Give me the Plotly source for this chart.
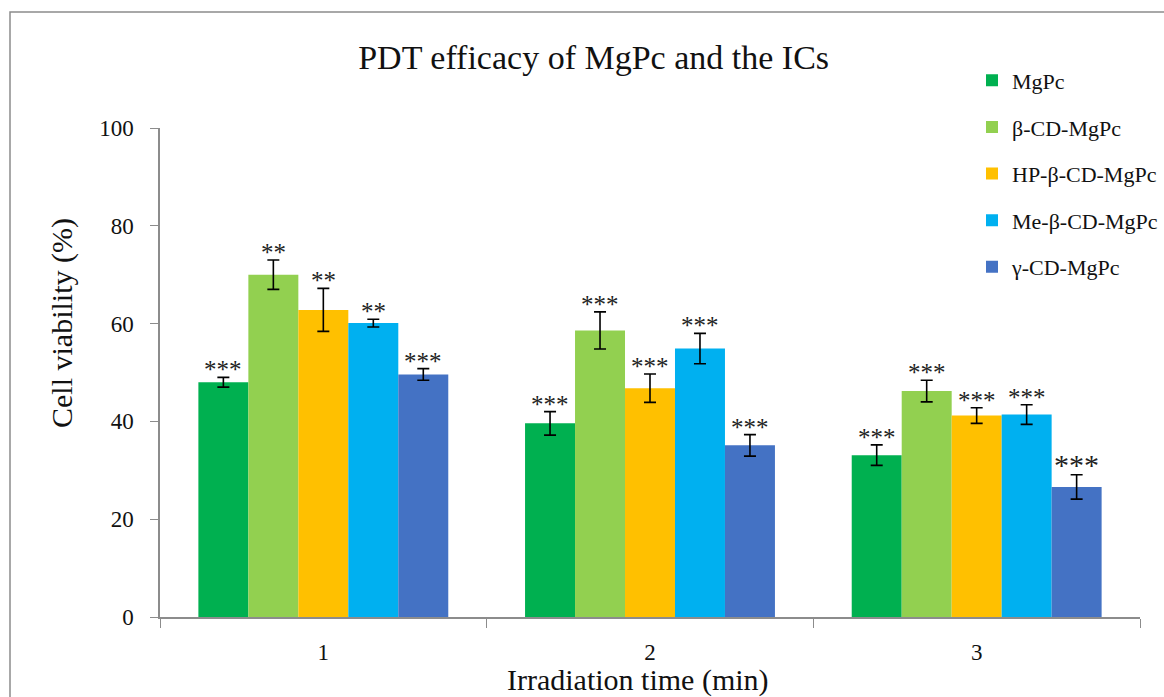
import plotly.graph_objects as go

categories = ["1", "2", "3"]
series_names = ["MgPc", "β-CD-MgPc", "HP-β-CD-MgPc", "Me-β-CD-MgPc", "γ-CD-MgPc"]
colors = ["#00B050", "#92D050", "#FFC000", "#00B0F0", "#4472C4"]

mgpc = [48.0, 39.6, 33.1]
beta_cd = [70.0, 58.6, 46.2]
hp_beta_cd = [62.8, 46.8, 41.2]
me_beta_cd = [60.1, 54.9, 41.4]
gamma_cd = [49.6, 35.1, 26.6]

mgpc_err = [1.0, 2.4, 2.1]
beta_cd_err = [3.0, 3.8, 2.2]
hp_beta_cd_err = [4.4, 2.9, 1.6]
me_beta_cd_err = [0.8, 3.1, 2.0]
gamma_cd_err = [1.2, 2.2, 2.5]

mgpc_sig = ["***", "***", "***"]
beta_cd_sig = ["**", "***", "***"]
hp_beta_cd_sig = ["**", "***", "***"]
me_beta_cd_sig = ["**", "***", "***"]
gamma_cd_sig = ["***", "***", "***"]

values = [mgpc, beta_cd, hp_beta_cd, me_beta_cd, gamma_cd]
errors = [mgpc_err, beta_cd_err, hp_beta_cd_err, me_beta_cd_err, gamma_cd_err]
sigs = [mgpc_sig, beta_cd_sig, hp_beta_cd_sig, me_beta_cd_sig, gamma_cd_sig]

FONT = "Liberation Serif"
GAP = 0.235
W, H = 1164, 697
ML, MR, MT, MB = 160, 24, 128, 80
PLOT_W = W - ML - MR
PLOT_H = H - MT - MB

fig = go.Figure()
for i, name in enumerate(series_names):
    fig.add_trace(go.Bar(
        x=categories, y=values[i], name=name,
        marker=dict(color=colors[i], line=dict(width=0)),
        error_y=dict(type="data", array=errors[i], visible=True,
                     color="black", thickness=1.6, width=6),
        offsetgroup=str(i), legendgroup=str(i),
    ))

# significance labels above error bars (x = category index on the category axis)
bar_px = PLOT_W / len(categories) * (1 - GAP) / len(series_names)
for i in range(len(series_names)):
    for j in range(len(categories)):
        size = 30 if (i == 4 and j == 2) else 25
        fig.add_annotation(
            x=j, y=values[i][j] + errors[i][j], xref="x", yref="y",
            text=sigs[i][j], showarrow=False, xanchor="center", yanchor="bottom",
            xshift=(i - (len(series_names) - 1) / 2) * bar_px, yshift=-8,
            font=dict(family=FONT, size=size, color="#222"),
        )

fig.update_layout(
    width=W, height=H,
    margin=dict(l=ML, r=MR, t=MT, b=MB, autoexpand=False),
    paper_bgcolor="white", plot_bgcolor="white",
    barmode="group", bargap=GAP, bargroupgap=0,
    font=dict(family=FONT, color="#111"),
    title=dict(text="PDT efficacy of MgPc and the ICs", x=0.51, xanchor="center",
               y=1 - 57 / H, yanchor="middle", font=dict(size=34, family=FONT)),
    legend=dict(x=(972 - ML) / PLOT_W, y=1.14, xanchor="left", yanchor="top",
                font=dict(size=22, family=FONT), tracegroupgap=15,
                bgcolor="rgba(0,0,0,0)", itemwidth=30),
    showlegend=True,
)
fig.update_xaxes(
    type="category", range=[-0.5, len(categories) - 0.5],
    showline=True, linecolor="#8c8c8c", linewidth=1.5,
    ticks="outside", tickson="boundaries", ticklen=9, tickcolor="#8c8c8c",
    ticklabelstandoff=14,
    tickfont=dict(size=23, family=FONT), showgrid=False, zeroline=False,
)
fig.update_yaxes(
    range=[0, 100], tickvals=[0, 20, 40, 60, 80, 100],
    showline=True, linecolor="#8c8c8c", linewidth=1.5,
    ticks="outside", ticklen=8, tickcolor="#8c8c8c", ticklabelstandoff=12,
    tickfont=dict(size=23, family=FONT), showgrid=False, zeroline=False,
)
fig.add_annotation(text="Irradiation time (min)", xref="paper", yref="paper",
                   x=(638 - ML) / PLOT_W, y=-(680 - (H - MB)) / PLOT_H, showarrow=False,
                   xanchor="center", yanchor="middle", font=dict(size=30, family=FONT))
fig.add_annotation(text="Cell viability (%)", xref="paper", yref="paper",
                   x=-(ML - 62) / PLOT_W, y=((H - MB) - 323) / PLOT_H, showarrow=False,
                   textangle=-90, xanchor="center", yanchor="middle",
                   font=dict(size=30, family=FONT))
fig.add_shape(type="rect", xref="paper", yref="paper",
              x0=-(ML - 10) / PLOT_W, x1=1.2, y0=-0.5, y1=((H - MB) - 12) / PLOT_H,
              line=dict(color="#8c8c8c", width=1.5), fillcolor="rgba(0,0,0,0)", layer="below")

fig.write_html("out.html")
